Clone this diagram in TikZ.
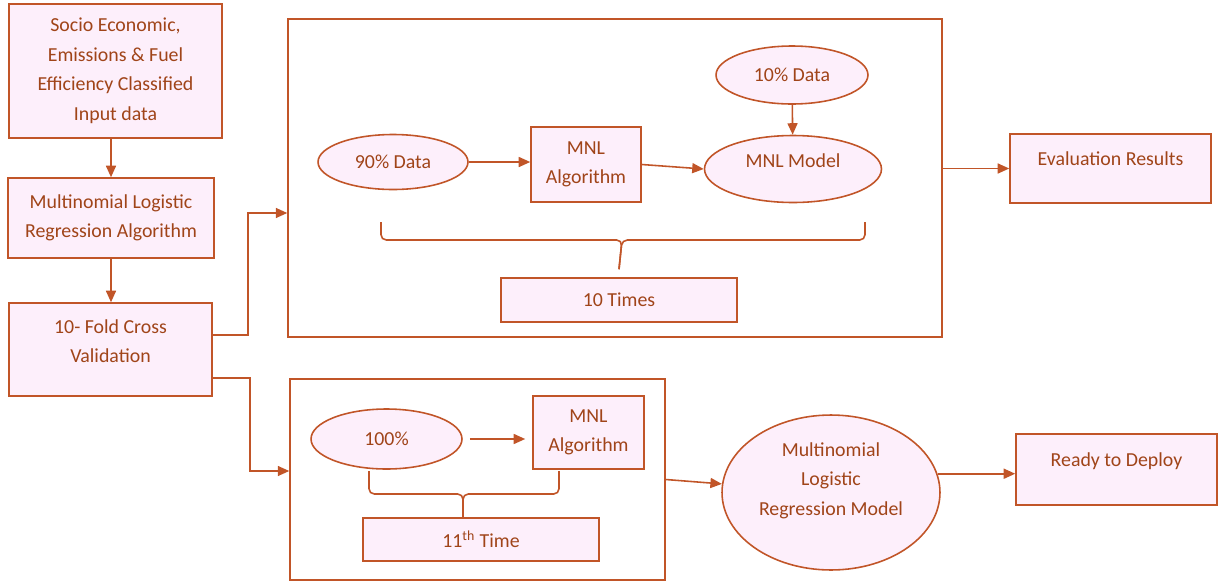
\documentclass[tikz,border=0pt]{standalone}
\usepackage{fontspec}
\setmainfont{Carlito}
\usepackage{tikz}
\usetikzlibrary{shapes.geometric,arrows.meta,positioning}
\usepackage{xcolor}
\definecolor{mnlline}{RGB}{193,85,40}
\definecolor{mnltext}{RGB}{160,68,25}
\definecolor{mnlfill}{RGB}{253,239,251}
\tikzset{
    pbox/.style={draw=mnlline, line width=0.9pt, fill=mnlfill,
                 text=mnltext, align=center, inner sep=2pt,
                 minimum width=#1},
    pbox/.default=4cm,
    pell/.style={ellipse, draw=mnlline, line width=0.9pt, fill=mnlfill,
                 text=mnltext, align=center, inner sep=0pt,
                 minimum width=#1},
    pell/.default=3cm,
    frame/.style={draw=mnlline, line width=0.9pt, inner sep=0pt},
    upper/.style={text height=0.25cm, text depth=0.37cm},
}

\begin{document}
\begin{tikzpicture}[
    x=0.02cm, y=-0.02cm,
    font=\fontsize{11.3}{16.8}\selectfont,
    arr/.style={-{Triangle[length=2.3mm,width=2mm]}, line width=0.9pt, mnlline},
    brc/.style={line width=0.9pt, mnlline, rounded corners=3pt},
]
    \useasboundingbox (0,0) rectangle (1218,582);

    % left column
    \node[pbox=4.26cm, minimum height=2.68cm] (input) at (115.5,71)
        {Socio Economic,\\Emissions \& Fuel\\Efficiency Classified\\Input data};
    \node[pbox=4.12cm, minimum height=1.6cm] (mlr) at (111,218)
        {Multinomial Logistic\\Regression Algorithm};
    \node[pbox=4.06cm, minimum height=1.86cm,
          label={[yshift=0.17cm, align=center, text=mnltext]center:10- Fold Cross\\Validation}]
        (cv) at (110.5,349.5) {};

    % ten folds
    \node[frame, minimum width=13.08cm, minimum height=6.36cm] (topframe) at (615,178) {};
    \node[pell=3.04cm, minimum height=1.16cm] (d10) at (792,75) {10\% Data};
    \node[pell=3cm, minimum height=1.1cm] (d90) at (393,162) {90\% Data};
    \node[pbox=2.2cm, minimum height=1.5cm] (alg1) at (586,164.5) {MNL\\Algorithm};
    \node[pell=3.54cm, minimum height=1.34cm,
          label={[yshift=0.16cm, text=mnltext]center:MNL Model}]
        (model1) at (793,169) {};
    \node[pbox=4.72cm, minimum height=0.88cm] (times10) at (619,300) {10 Times};
    \node[pbox=4.02cm, minimum height=1.38cm, upper] (eval) at (1110.5,168.5) {Evaluation Results};

    % final run
    \node[frame, minimum width=7.5cm, minimum height=4.02cm] (frame2) at (477.5,479.5) {};
    \node[pell=3.02cm, minimum height=1.2cm] (d100) at (386.5,439) {100\%};
    \node[pbox=2.22cm, minimum height=1.46cm] (alg2) at (588.5,432.5) {MNL\\Algorithm};
    \node[pbox=4.72cm, minimum height=0.86cm] (time11) at (481,539.5) {11\textsuperscript{th} Time};
    \node[pell=4.36cm, minimum height=3.1cm,
          label={[yshift=0.24cm, align=center, text=mnltext]center:Multinomial\\Logistic\\Regression Model}]
        (mlrmodel) at (831,492.5) {};
    \node[pbox=4.02cm, minimum height=1.42cm, upper] (ready) at (1116.5,469.5) {Ready to Deploy};

    % braces
    \draw[brc] (381,222) |- (622,240) -- ([yshift=0.16cm]times10.north);
    \draw[brc] (865,222) |- (622,240) -- ([yshift=0.16cm]times10.north);
    \draw[brc] (369,471) |- (463,494) -- (time11.north -| 463,0);
    \draw[brc] (559,471) |- (463,494) -- (time11.north -| 463,0);

    % connectors
    \draw[arr] (input.south -| mlr) -- (mlr.north);
    \draw[arr] (mlr.south) -- (mlr.south |- cv.north);
    \draw[arr] ([yshift=0.29cm]cv.east) -- ++(35,0) |- ([yshift=-0.7cm]topframe.west);
    \draw[arr] ([yshift=-0.57cm]cv.east) -- ++(37,0) |- ([yshift=0.17cm]frame2.west);
    \draw[arr] (d90.east) -- (d90.east -| alg1.west);
    \draw[arr] (alg1.east) -- (model1.west);
    \draw[arr] (d10) -- (model1);
    \draw[arr] (topframe.east |- eval.west) -- (eval.west);
    \draw[arr, shorten <=4pt, shorten >=4pt] (d100.east) -- (d100.east -| alg2.west);
    \draw[arr] (frame2.east) -- (mlrmodel);
    \draw[arr] (mlrmodel.10) -- (mlrmodel.10 -| ready.west);
\end{tikzpicture}
\end{document}
